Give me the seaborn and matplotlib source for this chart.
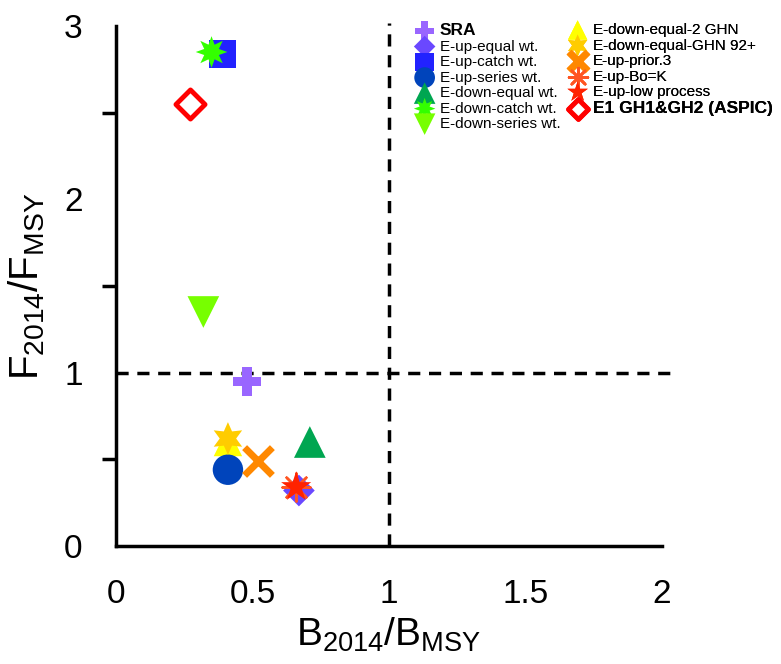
import matplotlib
matplotlib.use("Agg")
import matplotlib.pyplot as plt
import seaborn as sns
import pandas as pd

sns.set_style("white")

names = ["E-down-equal-2 GHN", "SRA", "E-up-equal wt.", "E-up-catch wt.", "E-up-series wt.",
         "E-down-equal wt.", "E-down-catch wt.", "E-down-series wt.",
         "E-down-equal-GHN 92+", "E-up-prior.3", "E-up-Bo=K", "E-up-low process",
         "E1 GH1&GH2 (ASPIC)"]
b_ratio = [0.41, 0.48, 0.67, 0.39, 0.41, 0.71, 0.35, 0.32, 0.41, 0.52, 0.66, 0.66, 0.27]
f_ratio = [0.60, 0.95, 0.32, 2.84, 0.44, 0.60, 2.85, 1.35, 0.62, 0.49, 0.34, 0.34, 2.55]
colors = ["#ffff00", "#9966ff", "#6a48ff", "#2222ff", "#0044bb", "#00a651", "#33ff00",
          "#77ff00", "#ffcc00", "#ff8800", "#ff5522", "#ff2200", "#ff0000"]
markers = ["^", "P", "D", "s", "o", "^", (8, 1, 0), "v", (6, 1, 0), "x", (8, 2, 0), "*", "D"]
sizes = [420, 420, 260, 400, 480, 520, 520, 520, 560, 400, 400, 520, 220]

x_ticks = [0, 0.5, 1, 1.5, 2]
y_ticks = [0, 1, 2, 3]

plt.rcParams["font.family"] = ["Liberation Sans", "DejaVu Sans"]
plt.rcParams["mathtext.fontset"] = "custom"
plt.rcParams["mathtext.rm"] = "Liberation Sans"

df = pd.DataFrame({"name": names, "B": b_ratio, "F": f_ratio})

fig = plt.figure(figsize=(7.81, 6.64), dpi=100)
ax = fig.add_axes([116/781, 1-546/664, (662-116)/781, (546-26)/664])

ax.plot([0, 2.04], [1, 1], color="black", ls=(0, (3.5, 2.5)), lw=2.5, clip_on=False)
ax.plot([1, 1], [0, 3.02], color="black", ls=(0, (3.5, 2.5)), lw=2.5, clip_on=False)

for i, n in enumerate(names):
    sub = df[df["name"] == n]
    m = markers[i]
    if m == "x" or m == (8, 2, 0):
        kw = dict(color=colors[i], linewidth=5 if m == "x" else 1.8)
    elif n.startswith("E1"):
        kw = dict(facecolor="white", edgecolor=colors[i], linewidth=3.5)
    else:
        kw = dict(color=colors[i], edgecolor="none", linewidth=0)
    sns.scatterplot(data=sub, x="B", y="F", marker=m, s=sizes[i], ax=ax, label=n,
                    zorder=3, legend=False, **kw)

h, l = ax.get_legend_handles_labels()
hd = dict(zip(l, h))
col1 = ["SRA", "E-up-equal wt.", "E-up-catch wt.", "E-up-series wt.", "E-down-equal wt.",
        "E-down-catch wt.", "E-down-series wt."]
col2 = ["E-down-equal-2 GHN", "E-down-equal-GHN 92+", "E-up-prior.3", "E-up-Bo=K",
        "E-up-low process", "E1 GH1&GH2 (ASPIC)"]
common = dict(frameon=False, fontsize=11, markerscale=0.68, handlelength=1.0,
              handletextpad=0.5, labelspacing=0.1, borderpad=0, borderaxespad=0,
              loc="upper left", bbox_transform=fig.transFigure, labelcolor="black")
for cols, xy in ((col1, (417/781, 1-23/664)), (col2, (570/781, 1-23/664))):
    leg = ax.legend([hd[c] for c in cols], cols, bbox_to_anchor=xy, **common)
    for t in leg.get_texts():
        if t.get_text() in ("SRA", "E1 GH1&GH2 (ASPIC)"):
            t.set_fontweight("bold")
            t.set_fontsize(12.5)
    ax.add_artist(leg)

ax.set_xlim(0, 2)
ax.set_ylim(0, 3)
ax.set_xticks(x_ticks)
ax.set_xticklabels([f"{v:g}" for v in x_ticks])
ax.set_yticks(y_ticks)
ax.set_yticklabels([f"{v:g}" for v in y_ticks])
ax.set_yticks([0.5, 1.5, 2.5], minor=True)
ax.tick_params(axis="both", which="major", direction="out", length=19, width=2.5,
               labelsize=24, pad=5, color="black", labelcolor="black")
ax.tick_params(axis="y", which="minor", direction="out", length=10, width=2.5, left=True,
               color="black")
sns.despine(ax=ax)
for s in ("left", "bottom"):
    ax.spines[s].set_linewidth(2.5)
    ax.spines[s].set_color("black")

ax.set_xlabel(r"$\mathregular{B_{2014}/B_{MSY}}$", fontsize=28, labelpad=4, color="black")
ax.set_ylabel(r"$\mathregular{F_{2014}/F_{MSY}}$", fontsize=29, labelpad=12, color="black")

fig.savefig("out.png", dpi=100)
